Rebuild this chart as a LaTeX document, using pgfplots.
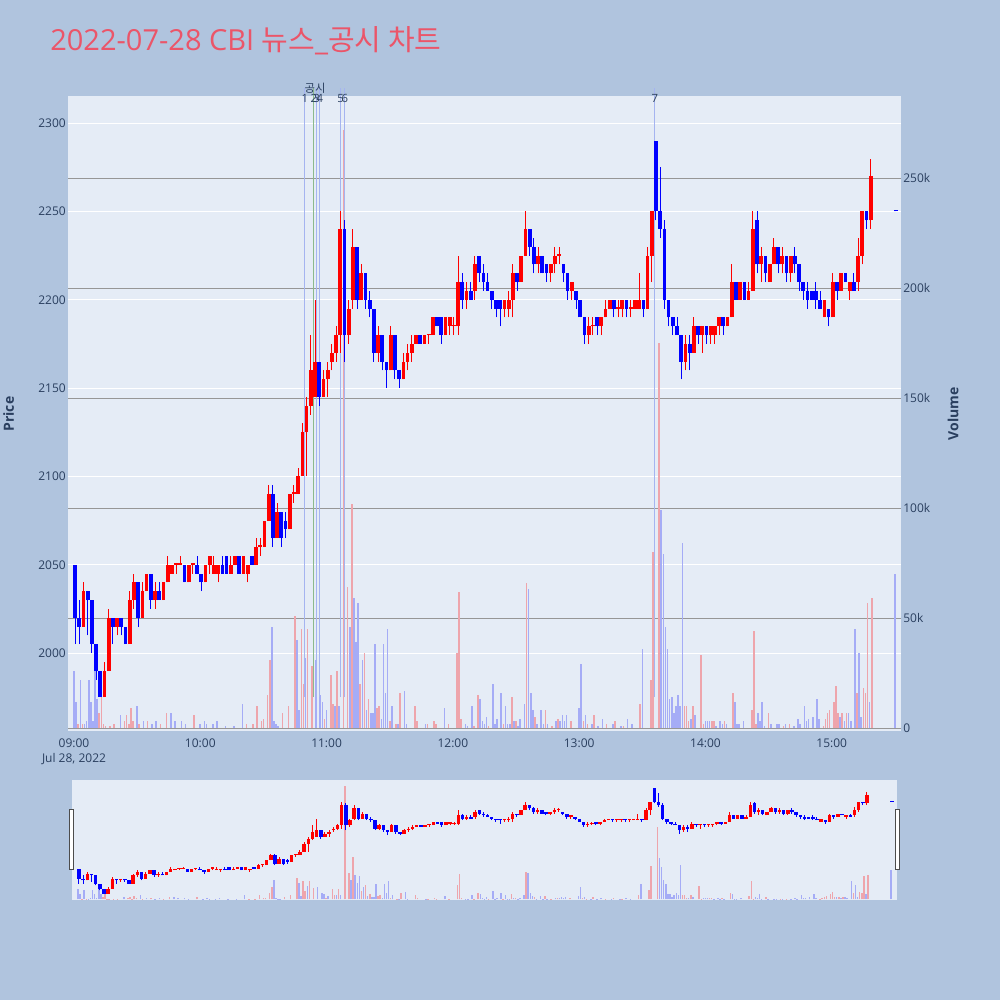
\documentclass[border=0pt]{standalone}
\usepackage{pgfplots}
\usepackage{pgfplotstable}
\pgfplotsset{compat=1.18}
\usepackage{fontspec}
\setmainfont{Open Sans}
\newfontfamily\kr{Noto Sans CJK KR}
\definecolor{pagebg}{RGB}{176,196,222}
\definecolor{plotbg}{RGB}{229,236,246}
\definecolor{tickc}{RGB}{42,63,95}
\definecolor{titlec}{RGB}{235,85,105}
\definecolor{volred}{RGB}{238,165,172}
\definecolor{volblue}{RGB}{165,172,246}
\definecolor{newsblue}{RGB}{165,180,240}
\definecolor{newsgreen}{RGB}{140,185,140}
\definecolor{gridtwo}{RGB}{150,150,150}
\definecolor{upc}{RGB}{255,0,0}
\definecolor{dnc}{RGB}{0,0,255}

\pgfplotstableread{
t o h l c
0 2050 2050 2005 2020
2 2020 2030 2005 2015
4 2015 2040 2015 2035
6 2035 2035 2010 2030
8 2030 2030 2000 2005
10 2005 2005 1985 1990
12 1990 1990 1975 1975
14 1975 1995 1975 1990
16 1990 2025 1990 2020
18 2020 2020 2005 2015
20 2015 2020 2010 2020
22 2020 2020 2010 2015
24 2015 2015 2005 2005
26 2005 2035 2005 2030
28 2030 2045 2025 2040
30 2040 2040 2015 2020
32 2020 2040 2020 2035
34 2035 2045 2035 2045
36 2045 2045 2025 2030
38 2030 2040 2025 2035
40 2035 2040 2030 2030
42 2030 2040 2030 2040
44 2040 2055 2040 2050
46 2045 2050 2045 2050
48 2050 2050 2045 2050
50 2050 2055 2050 2050
52 2050 2050 2040 2040
54 2040 2050 2040 2050
56 2050 2050 2045 2050
58 2050 2055 2045 2045
60 2045 2045 2035 2040
62 2040 2050 2040 2050
64 2050 2055 2045 2055
66 2045 2055 2045 2050
68 2045 2050 2040 2050
70 2050 2055 2045 2045
72 2055 2055 2045 2045
74 2045 2055 2045 2050
76 2050 2055 2050 2055
78 2055 2055 2045 2045
80 2045 2055 2045 2055
82 2045 2050 2040 2050
84 2055 2055 2050 2050
86 2050 2065 2050 2060
88 2060 2065 2055 2060
90 2060 2075 2060 2075
92 2075 2095 2075 2090
94 2090 2095 2060 2065
96 2065 2085 2065 2080
98 2080 2080 2060 2065
100 2075 2080 2065 2070
102 2070 2090 2070 2090
104 2090 2095 2085 2090
106 2090 2105 2090 2100
108 2100 2130 2100 2125
110 2125 2145 2100 2140
112 2140 2180 2135 2160
114 2145 2200 2145 2165
116 2165 2165 2140 2145
118 2145 2160 2145 2155
120 2155 2165 2145 2160
122 2165 2175 2160 2170
124 2170 2185 2165 2180
126 2180 2250 2170 2240
128 2240 2245 2165 2180
130 2180 2200 2175 2195
132 2200 2240 2195 2230
134 2230 2230 2195 2200
136 2200 2220 2200 2215
138 2215 2215 2195 2200
140 2200 2205 2190 2195
142 2195 2195 2165 2170
144 2170 2185 2165 2180
146 2180 2180 2160 2165
148 2165 2165 2150 2160
150 2160 2185 2160 2180
152 2180 2180 2155 2160
154 2160 2160 2150 2155
156 2155 2170 2155 2165
158 2165 2175 2160 2170
160 2170 2180 2165 2175
162 2175 2180 2175 2180
164 2180 2180 2175 2175
166 2175 2180 2175 2180
168 2180 2180 2175 2180
170 2180 2190 2180 2190
172 2190 2190 2185 2185
174 2190 2190 2175 2180
176 2180 2190 2180 2190
178 2185 2190 2180 2190
180 2185 2190 2180 2185
182 2185 2225 2180 2210
184 2210 2215 2195 2200
186 2200 2210 2195 2205
188 2205 2210 2200 2200
190 2205 2225 2200 2220
192 2225 2225 2210 2215
194 2215 2220 2205 2210
196 2210 2215 2205 2205
198 2205 2205 2195 2200
200 2200 2200 2190 2195
202 2200 2200 2185 2195
204 2195 2200 2190 2200
206 2195 2205 2190 2200
208 2200 2220 2190 2215
210 2215 2215 2205 2210
212 2210 2225 2210 2225
214 2225 2250 2225 2240
216 2240 2240 2225 2230
218 2230 2235 2215 2220
220 2220 2230 2215 2225
222 2225 2225 2215 2215
224 2220 2220 2210 2215
226 2215 2220 2210 2220
228 2220 2230 2215 2225
230 2225 2230 2220 2225
232 2220 2220 2210 2215
234 2215 2215 2200 2205
236 2205 2210 2200 2210
238 2205 2205 2195 2200
240 2200 2200 2190 2190
242 2190 2190 2175 2180
244 2180 2190 2175 2185
246 2185 2190 2180 2185
248 2190 2190 2180 2185
250 2185 2190 2180 2190
252 2190 2200 2190 2195
254 2195 2200 2195 2200
256 2200 2200 2190 2195
258 2195 2200 2190 2195
260 2195 2200 2190 2200
262 2200 2200 2190 2195
264 2195 2200 2190 2195
266 2195 2200 2195 2200
268 2195 2215 2195 2200
270 2200 2200 2190 2195
272 2195 2230 2195 2225
274 2225 2250 2210 2250
276 2290 2290 2245 2250
278 2250 2275 2235 2240
280 2240 2245 2195 2200
282 2200 2200 2185 2190
284 2190 2190 2180 2185
286 2185 2190 2180 2180
288 2180 2180 2155 2165
290 2165 2180 2160 2175
292 2175 2180 2160 2170
294 2170 2190 2170 2185
296 2185 2185 2175 2180
298 2180 2185 2170 2185
300 2185 2185 2175 2180
302 2180 2185 2175 2185
304 2180 2185 2175 2185
306 2185 2190 2180 2190
308 2190 2190 2180 2185
310 2185 2190 2185 2190
312 2190 2220 2190 2210
314 2210 2210 2200 2200
316 2200 2210 2200 2210
318 2210 2210 2200 2200
320 2200 2210 2200 2205
322 2205 2250 2205 2240
324 2245 2250 2215 2220
326 2220 2230 2210 2225
328 2225 2225 2210 2215
330 2210 2220 2210 2220
332 2220 2235 2220 2230
334 2230 2230 2215 2220
336 2220 2230 2215 2225
338 2225 2225 2210 2215
340 2215 2225 2210 2225
342 2225 2230 2215 2220
344 2220 2220 2205 2210
346 2210 2210 2200 2205
348 2205 2210 2195 2200
350 2205 2205 2200 2200
352 2205 2210 2195 2200
354 2200 2205 2195 2195
356 2190 2200 2190 2200
358 2195 2195 2185 2190
360 2190 2215 2190 2210
362 2210 2210 2200 2205
364 2205 2215 2205 2215
366 2215 2215 2210 2210
368 2205 2210 2200 2210
370 2210 2215 2205 2205
372 2210 2235 2205 2225
374 2225 2250 2220 2250
376 2250 2250 2240 2245
378 2245 2280 2240 2270
390 2251 2251 2250 2250
}\candles

\pgfplotstableread{
t v u
0 26 0
1 12 0
2 2 1
3 22 0
4 2 1
5 2 0
6 3 0
7 22 0
8 12 0
9 3 0
10 26 0
11 13 0
12 7 1
13 14 1
14 2 1
15 1 1
17 1 1
19 2 1
22 6 0
24 3 1
25 6 1
26 2 1
27 9 1
28 3 1
30 10 0
31 2 1
33 3 0
35 3 1
37 2 0
39 3 0
41 2 1
44 7 1
46 7 0
48 3 0
51 3 0
53 2 0
57 6 1
60 2 0
62 3 0
63 2 0
66 2 0
68 3 0
72 1 0
76 1 0
80 11 0
82 2 1
85 2 1
87 10 1
89 3 1
90 4 1
92 15 1
93 31 1
94 46 0
95 3 0
96 2 0
97 1 0
99 7 1
102 10 1
105 51 1
106 40 0
107 8 0
108 45 1
109 20 1
110 32 0
111 45 1
113 28 1
115 31 0
117 15 0
118 12 0
119 4 1
120 8 0
122 24 1
123 11 1
124 10 0
125 26 1
126 10 0
128 272 1
130 64 1
131 46 0
132 102 1
133 59 0
134 39 0
135 57 0
136 20 1
137 31 0
138 34 1
139 8 0
140 13 1
141 7 0
142 7 0
143 38 0
144 9 1
145 10 1
146 4 0
147 38 0
148 16 0
149 45 0
150 3 1
151 10 0
153 2 1
154 2 0
155 16 1
157 17 0
158 2 0
162 10 1
163 3 1
167 2 0
168 2 1
171 3 1
172 2 1
176 9 0
178 2 1
182 34 1
183 62 1
184 4 1
186 2 0
187 1 0
189 10 0
190 1 1
192 15 1
193 13 0
194 3 0
195 2 0
196 5 0
197 1 1
199 20 0
200 2 0
201 4 0
203 16 0
204 2 1
205 10 0
206 2 0
207 2 0
208 14 1
209 3 0
210 3 1
211 1 0
212 4 0
214 11 0
215 66 1
216 63 0
217 16 0
218 8 0
219 5 1
220 2 0
222 8 0
223 2 0
224 8 1
225 2 0
227 1 1
229 3 0
230 4 1
231 3 0
232 6 0
233 3 0
234 6 0
236 3 1
240 9 0
241 29 0
242 3 1
243 6 0
244 2 1
246 2 0
247 6 1
249 1 0
251 4 0
253 2 1
256 2 0
257 3 1
260 1 0
261 1 1
263 4 0
265 2 0
269 11 1
270 36 0
274 22 1
275 80 1
278 175 1
279 99 0
280 79 0
281 46 0
282 36 0
283 13 0
284 14 0
285 7 0
286 10 0
287 15 0
288 10 0
289 84 0
290 10 1
291 10 1
292 3 1
293 4 0
294 10 1
295 6 0
298 33 1
299 2 1
300 3 0
301 3 0
302 3 0
303 3 1
304 3 1
305 1 0
307 3 0
308 2 0
309 3 1
310 2 0
313 16 1
314 12 0
315 2 0
316 2 0
318 3 0
322 8 1
323 44 1
324 2 1
325 7 0
326 3 0
327 12 0
328 1 0
330 7 1
331 2 0
334 2 0
335 2 0
337 1 1
338 2 0
340 2 1
342 1 0
344 4 0
345 2 0
347 10 0
348 3 0
349 4 0
351 5 0
353 13 0
354 4 0
356 1 1
357 4 1
358 7 1
359 8 1
361 12 1
362 19 1
363 7 1
364 5 0
365 7 1
366 3 0
367 7 1
368 7 0
369 3 0
371 45 0
372 16 1
373 34 0
374 5 0
375 18 1
376 16 1
377 57 1
378 12 0
379 59 1
390 70 0
}\vols

\pgfplotsset{
  isup/.style={restrict expr to domain={\thisrow{c}-\thisrow{o}}{-0.1:1000}},
  isdn/.style={restrict expr to domain={\thisrow{c}-\thisrow{o}}{-1000:-0.5}},
  isred/.style={restrict expr to domain={\thisrow{u}}{0.5:2}},
  isblue/.style={restrict expr to domain={\thisrow{u}}{-1:0.5}},
  xr/.style={xmin=-2.85, xmax=392.9, scale only axis, anchor=south west},
  mainpos/.style={xr, width=624.75pt, height=476.25pt, at={(51pt,201.75pt)}},
  slidepos/.style={xr, width=618.75pt, height=90pt, at={(54pt,75pt)}},
  pricey/.style={ymin=1955.85, ymax=2315.4},
  voly/.style={ymin=-1.36, ymax=287.3},
}

\newcommand{\candleplots}[3]{%
  \addplot[draw=none, mark=none, isup,
    error bars/.cd, y dir=plus, y explicit, error mark=none,
    error bar style={draw=upc, line width=#3}]
    table[x expr=\thisrow{t}+0.5, y=l, y error plus expr={\thisrow{h}-\thisrow{l}}]{\candles};
  \addplot[draw=none, mark=none, isdn,
    error bars/.cd, y dir=plus, y explicit, error mark=none,
    error bar style={draw=dnc, line width=#3}]
    table[x expr=\thisrow{t}+0.5, y=l, y error plus expr={\thisrow{h}-\thisrow{l}}]{\candles};
  \addplot[draw=none, mark=none, isup,
    error bars/.cd, y dir=plus, y explicit, error mark=none,
    error bar style={draw=upc, line width=#1}]
    table[x expr=\thisrow{t}+0.5, y expr={min(\thisrow{o},\thisrow{c})}, y error plus expr={max(abs(\thisrow{c}-\thisrow{o}),#2)}]{\candles};
  \addplot[draw=none, mark=none, isdn,
    error bars/.cd, y dir=plus, y explicit, error mark=none,
    error bar style={draw=dnc, line width=#1}]
    table[x expr=\thisrow{t}+0.5, y expr={min(\thisrow{o},\thisrow{c})}, y error plus expr={max(abs(\thisrow{c}-\thisrow{o}),#2)}]{\candles};
}
\newcommand{\volplots}[1]{%
  \addplot[ycomb, volred, line width=#1, isred] table[x=t, y=v]{\vols};
  \addplot[ycomb, volblue, line width=#1, isblue] table[x=t, y=v]{\vols};
}

\begin{document}
\begin{tikzpicture}
\useasboundingbox (0,0) rectangle (750pt,750pt);
\fill[pagebg] (0,0) rectangle (750pt,750pt);

% title and axis titles
\node[anchor=base west, inner sep=0pt, text=titlec, font=\fontsize{21.75}{24}\selectfont] at (37.5pt,711.75pt)
  {2022-07-28 CBI {\kr 뉴스}\_{\kr 공시 차트}};
\node[rotate=90, text=tickc, font=\bfseries\fontsize{10.5}{12}\selectfont] at (6.5pt,439.5pt) {Price};
\node[rotate=90, text=tickc, font=\bfseries\fontsize{10.5}{12}\selectfont] at (714.75pt,439.5pt) {Volume};

% main price axis: background, white grid, ticks
\begin{axis}[mainpos, pricey,
  axis background/.style={fill=plotbg},
  axis line style={draw=none}, tick style={draw=none},
  ytick={2000,2050,2100,2150,2200,2250,2300},
  yticklabels={2000,2050,2100,2150,2200,2250,2300},
  ymajorgrids, major grid style={white, line width=0.75pt},
  xtick={0,60,120,180,240,300,360},
  xticklabels={{09:00\\Jul 28, 2022},10:00,11:00,12:00,13:00,14:00,15:00},
  xticklabel style={align=center, text=tickc, font=\fontsize{9}{11.25}\selectfont, inner sep=2pt, yshift=-3.5pt},
  yticklabel style={text=tickc, font=\fontsize{9}{11}\selectfont, inner sep=1.5pt},
]
\addplot[draw=none, forget plot] coordinates {(0,2000)};
\end{axis}

% volume axis
\begin{axis}[mainpos, voly,
  axis line style={draw=none}, tick style={draw=none},
  axis y line*=right, axis x line=none,
  ytick={0,50,100,150,200,250},
  yticklabels={0,50k,100k,150k,200k,250k},
  ymajorgrids, major grid style={gridtwo, line width=0.75pt},
  yticklabel style={text=tickc, font=\fontsize{9}{11}\selectfont, inner sep=1.5pt},
]
\volplots{1.2pt}
\end{axis}

% candles and news lines
\begin{axis}[mainpos, pricey, hide axis, clip=false]
\addplot[newsblue, line width=0.75pt] coordinates {(109.7,1975) (109.7,2320)};
\addplot[newsgreen, line width=0.75pt] coordinates {(114,1975) (114,2320)};
\addplot[newsblue, line width=0.75pt] coordinates {(115.3,1975) (115.3,2320)};
\addplot[newsblue, line width=0.75pt] coordinates {(116.5,1975) (116.5,2320)};
\addplot[newsblue, line width=0.75pt] coordinates {(126.7,1975) (126.7,2320)};
\addplot[newsblue, line width=0.75pt] coordinates {(128.4,1975) (128.4,2320)};
\addplot[newsblue, line width=0.75pt] coordinates {(276,1975) (276,2320)};
\candleplots{2.8pt}{0.9}{0.75pt}
\begin{scope}[every node/.style={text=tickc, font=\fontsize{8.5}{9}\selectfont, inner sep=0pt}]
\node at (axis cs:109.7,2314) {1};
\node at (axis cs:114,2314) {2};
\node at (axis cs:115.3,2314) {3};
\node at (axis cs:116.8,2314) {4};
\node at (axis cs:126.7,2314) {5};
\node at (axis cs:128.7,2314) {6};
\node at (axis cs:276,2314) {7};
\node[font=\kr\fontsize{8.5}{9}\selectfont] at (axis cs:114.5,2319.5) {공시};
\end{scope}
\end{axis}

% range slider
\begin{axis}[slidepos, voly, hide axis, axis background/.style={fill=plotbg}]
\volplots{1.1pt}
\end{axis}
\begin{axis}[slidepos, pricey, hide axis]
\candleplots{2.6pt}{3}{0.75pt}
\end{axis}
\draw[fill=white, draw=black!70, line width=0.75pt] (51.75pt,97.5pt) rectangle (54.75pt,142.5pt);
\draw[fill=white, draw=black!70, line width=0.75pt] (671.25pt,97.5pt) rectangle (674.25pt,142.5pt);
\end{tikzpicture}
\end{document}
